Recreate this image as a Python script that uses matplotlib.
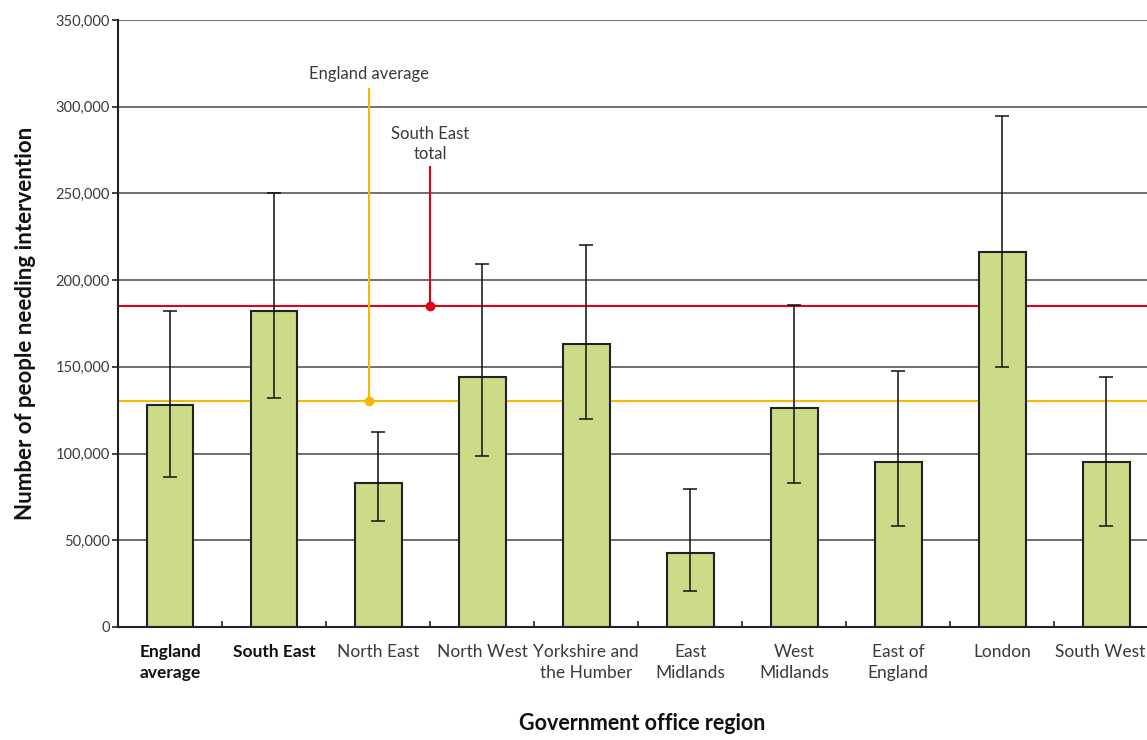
import numpy as np
import matplotlib.pyplot as plt

regions = ['England\naverage', 'South East', 'North East', 'North West',
           'Yorkshire and\nthe Humber', 'East\nMidlands', 'West\nMidlands',
           'East of\nEngland', 'London', 'South West']
values = [128000, 182000, 83000, 144000, 163000, 42500, 126000, 95000, 216500, 95000]
err_low = [86500, 132000, 61000, 98500, 120000, 21000, 83000, 58000, 150000, 58000]
err_high = [182000, 250000, 112500, 209500, 220000, 79500, 185500, 147500, 294500, 144000]
england_avg = 130500
south_east_total = 185000

fam = ['Lato', 'DejaVu Sans']
plt.rcParams['font.family'] = fam

fig = plt.figure(figsize=(11.47, 7.40), dpi=100)
ax = fig.add_axes([118/1147, 113/740, 1 - 118/1147, 607/740])

x = np.arange(len(regions))
vals = np.array(values)
yerr = [vals - np.array(err_low), np.array(err_high) - vals]

for y in range(50000, 350001, 50000):
    ax.axhline(y, color='#555555', lw=1.2, zorder=0)
ax.axhline(south_east_total, color='#e2001a', lw=1.5, zorder=1)
ax.axhline(england_avg, color='#f9b900', lw=1.5, zorder=1)

ax.bar(x, vals, width=0.45, color='#cbdb87', edgecolor='#222222', lw=1.5, zorder=2)
ax.errorbar(x, vals, yerr=yerr, fmt='none', ecolor='#111111', elinewidth=1.1,
            capsize=5, capthick=1.1, zorder=3)

txt = '#3a3a3a'

# annotation leaders
ax.plot([1.91, 1.91], [england_avg, 310000], color='#f9b900', lw=1.5, zorder=1)
ax.plot([1.91], [england_avg], 'o', color='#f9b900', ms=6, zorder=1)
ax.text(1.91, 314000, 'England average', ha='center', va='bottom', fontsize=12,
        color=txt)
ax.plot([2.5, 2.5], [south_east_total, 265000], color='#e2001a', lw=1.5, zorder=1)
ax.plot([2.5], [south_east_total], 'o', color='#e2001a', ms=6, zorder=1)
ax.text(2.5, 268000, 'South East\ntotal', ha='center', va='bottom', fontsize=12,
        color=txt, linespacing=1.35)

ax.set_xlim(-0.5, 9.39)
ax.set_ylim(0, 350000)
ax.set_yticks(range(0, 350001, 50000))
ax.set_yticklabels(['0'] + ['{:,}'.format(v) for v in range(50000, 350001, 50000)],
                   fontsize=10.5, color=txt)
ax.tick_params(axis='y', length=4, width=1.2, color='#222222', pad=2)

ax.set_xticks(x)
ax.set_xticklabels(regions[:-1] + [''], fontsize=12.5, color=txt, va='top', linespacing=1.4)
for lab in ax.get_xticklabels()[:2]:
    lab.set_fontweight('bold')
    lab.set_color('#111111')
ax.tick_params(axis='x', length=0, pad=12)
ax.set_xticks(np.arange(0.5, 9.4, 1), minor=True)
ax.tick_params(axis='x', which='minor', direction='in', length=4, width=1.2, color='#222222')
# last label sits right against the edge, as in the original
ax.text(0.998, -0.0275, regions[-1], transform=ax.transAxes, ha='right', va='top',
        fontsize=12.5, color=txt)

for s in ['top', 'right']:
    ax.spines[s].set_visible(False)
ax.spines['left'].set_linewidth(1.5)
ax.spines['bottom'].set_linewidth(1.5)
ax.spines['left'].set_color('#222222')
ax.spines['bottom'].set_color('#222222')

ax.set_ylabel('Number of people needing intervention', fontsize=16,
              fontweight='bold', color='#111111', labelpad=14)
fig.text(642/1147, 1 - 724/740, 'Government office region', ha='center', va='center',
         fontsize=15.5, fontweight='bold', color='#111111')

fig.savefig('out.png', dpi=100)
